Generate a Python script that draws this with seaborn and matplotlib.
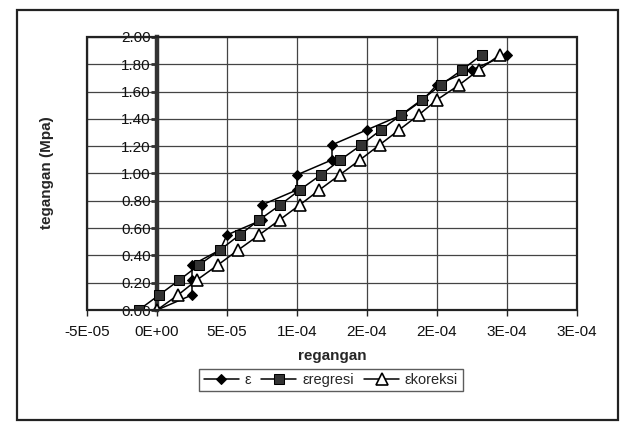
import matplotlib
matplotlib.use("Agg")
import matplotlib.pyplot as plt
from matplotlib.patches import Rectangle
import seaborn as sns
import pandas as pd

# stress levels (MPa)
tegangan = [0.00, 0.11, 0.22, 0.33, 0.44, 0.55, 0.66, 0.77, 0.88, 0.99,
            1.10, 1.21, 1.32, 1.43, 1.54, 1.65, 1.76, 1.87]
# measured strain
eps = [0.0, 2.5e-5, 2.5e-5, 2.5e-5, 4.5e-5, 5.0e-5, 7.5e-5, 7.5e-5, 1.0e-4, 1.0e-4,
       1.25e-4, 1.25e-4, 1.5e-4, 1.75e-4, 1.9e-4, 2.0e-4, 2.25e-4, 2.5e-4]
# regression strain
eps_regresi = [-1.3e-5, 1.5e-6, 1.6e-5, 3.0e-5, 4.5e-5, 5.9e-5, 7.3e-5, 8.8e-5, 1.02e-4, 1.17e-4,
               1.31e-4, 1.46e-4, 1.60e-4, 1.745e-4, 1.89e-4, 2.03e-4, 2.18e-4, 2.32e-4]
# corrected strain
eps_koreksi = [0.0, 1.5e-5, 2.85e-5, 4.35e-5, 5.8e-5, 7.3e-5, 8.75e-5, 1.02e-4, 1.16e-4, 1.305e-4,
               1.45e-4, 1.59e-4, 1.73e-4, 1.87e-4, 2.0e-4, 2.16e-4, 2.30e-4, 2.45e-4]

x_ticks = [-5e-5, 0.0, 5e-5, 1e-4, 1.5e-4, 2e-4, 2.5e-4, 3e-4]
x_tick_labels = ["-5E-05", "0E+00", "5E-05", "1E-04", "2E-04", "2E-04", "3E-04", "3E-04"]
y_ticks = [0.0, 0.2, 0.4, 0.6, 0.8, 1.0, 1.2, 1.4, 1.6, 1.8, 2.0]
y_tick_labels = ["0.00", "0.20", "0.40", "0.60", "0.80", "1.00", "1.20", "1.40", "1.60", "1.80", "2.00"]

sns.set_theme(style="white")
plt.rcParams["font.family"] = ["Liberation Sans", "DejaVu Sans"]

W, H = 622, 423
fig = plt.figure(figsize=(W / 100, H / 100), dpi=100)
fig.patch.set_facecolor("white")

# chart border
fig.add_artist(Rectangle((17 / W, 1 - 420 / H), (618 - 17) / W, (420 - 10) / H,
                         transform=fig.transFigure, fill=False, ec="#222222", lw=1.6))

ax = fig.add_axes([87 / W, 1 - 310 / H, (577 - 87) / W, (310 - 37) / H])
ax.set_facecolor("white")

df = pd.DataFrame({"tegangan": tegangan, "eps": eps,
                   "eps_regresi": eps_regresi, "eps_koreksi": eps_koreksi})

sns.lineplot(data=df, x="eps", y="tegangan", sort=False, estimator=None, ax=ax,
             color="black", lw=1.1, marker="D", markersize=5.5, markerfacecolor="black",
             markeredgecolor="black", label="ε", zorder=4)
sns.lineplot(data=df, x="eps_regresi", y="tegangan", sort=False, estimator=None, ax=ax,
             color="black", lw=1.1, marker="s", markersize=7, markerfacecolor="#333333",
             markeredgecolor="black", label="εregresi", zorder=4)
sns.lineplot(data=df, x="eps_koreksi", y="tegangan", sort=False, estimator=None, ax=ax,
             color="black", lw=1.1, marker="^", markersize=8, markerfacecolor="white",
             markeredgecolor="black", markeredgewidth=1.2, label="εkoreksi", zorder=4)

ax.set_xlim(-5e-5, 3e-4)
ax.set_ylim(0, 2.0)
ax.set_xticks(x_ticks)
ax.set_xticklabels(x_tick_labels, fontsize=11)
ax.set_yticks(y_ticks)
ax.set_yticklabels(y_tick_labels, fontsize=11)

ax.grid(True, color="#444444", lw=0.9)
ax.set_axisbelow(True)

for s in ["top", "right", "bottom"]:
    ax.spines[s].set_visible(False)
ax.spines["left"].set_position(("data", 0))
ax.spines["left"].set_linewidth(3.2)
ax.spines["left"].set_color("#333333")
ax.spines["left"].set_zorder(3)

# plot-area frame
ax.add_patch(Rectangle((0, 0), 1, 1, transform=ax.transAxes, fill=False,
                       ec="#222222", lw=1.6, zorder=5, clip_on=False))

ax.tick_params(axis="x", bottom=True, direction="out", length=4, width=1, color="#222222",
               pad=7, labelcolor="#111111")
ax.tick_params(axis="y", left=True, direction="out", length=4, width=2, color="#333333",
               pad=0.5, labelcolor="#111111")

ax.set_xlabel("regangan", fontsize=11, fontweight="bold", labelpad=7)
ax.set_ylabel("")
fig.text(47 / W, 1 - 173 / H, "tegangan (Mpa)", rotation=90, ha="center", va="center",
         fontsize=11, fontweight="bold")

ax.get_legend().remove()
handles, labels = ax.get_legend_handles_labels()
leg = fig.legend(handles, labels, ncol=3, loc="center",
                 bbox_to_anchor=(331 / W, 1 - 380 / H), fontsize=10.5, frameon=True,
                 fancybox=False, edgecolor="#333333", handlelength=2.4,
                 handletextpad=0.4, columnspacing=0.7, borderpad=0.3)
leg.get_frame().set_linewidth(1.0)

fig.savefig("out.png", dpi=100, facecolor=fig.get_facecolor())
